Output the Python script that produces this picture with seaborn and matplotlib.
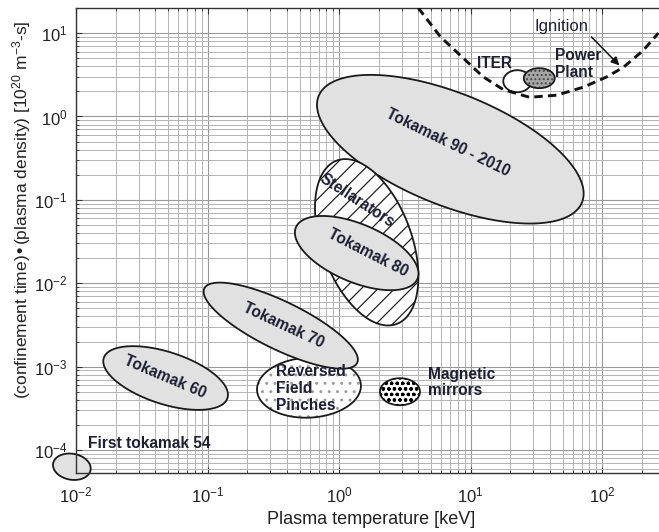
import numpy as np
import matplotlib
matplotlib.use("Agg")
import matplotlib.pyplot as plt
import seaborn as sns

# ---------------- data ----------------
regions = ["First tokamak 54", "Tokamak 60", "Reversed Field Pinches", "Tokamak 70",
           "Magnetic mirrors", "Tokamak 90 - 2010", "Stellarators", "Tokamak 80",
           "ITER", "Power Plant"]
center_T = [0.0093, 0.048, 0.59, 0.36, 2.9, 7.0, 1.62, 1.36, 22.6, 33.2]          # keV
center_ntau = [6.3e-5, 7.3e-4, 5.6e-4, 3.1e-3, 5.0e-4, 0.405, 3.1e-2, 2.3e-2, 2.65, 2.88]

ignition_T = [4.0, 5.9, 8.8, 12.4, 17.7, 28.0, 45.0, 72.0, 109.0, 145.0, 205.0, 267.0]
ignition_ntau = [20.0, 9.0, 5.0, 3.0, 2.1, 1.7, 1.8, 2.25, 3.0, 3.9, 6.2, 10.0]

x_ticks = [1e-2, 1e-1, 1e0, 1e1, 1e2]
y_ticks = [1e-4, 1e-3, 1e-2, 1e-1, 1e0, 1e1]

# ---------------- styling / geometry ----------------
sns.set_theme(style="white")
plt.rcParams['font.family'] = ['Liberation Sans', 'DejaVu Sans']
plt.rcParams['axes.unicode_minus'] = False
plt.rcParams['hatch.linewidth'] = 0.9
plt.rcParams['mathtext.default'] = 'regular'

TXT = "#1e1e34"
GRAY = "#e1e1e1"
# semi-axes (px) and tilt (deg, clockwise on screen), fill, hatch, hatch colour
shape = {
    "First tokamak 54": (19, 13, 10, GRAY, None, None),
    "Tokamak 60": (65, 26, 18, GRAY, None, None),
    "Reversed Field Pinches": (52, 30, -3, "white", "..", "#9a9a9a"),
    "Tokamak 70": (85, 24, 26, GRAY, None, None),
    "Magnetic mirrors": (20, 13.5, 0, "white", "ooo", "#000000"),
    "Tokamak 90 - 2010": (142, 56, 22, GRAY, None, None),
    "Stellarators": (87, 45, 70, "white", "//", "#222222"),
    "Tokamak 80": (66, 29, 23, GRAY, None, None),
    "ITER": (14, 11, 0, "white", None, None),
    "Power Plant": (15.5, 10, 0, "#a5a5a5", "....", "#444444"),
}

fig = plt.figure(figsize=(6.59, 5.32), dpi=100)
ax = fig.add_axes([76/659, 1-473/532, (659-76)/659, (473-8)/532])
ax.set_xscale('log')
ax.set_yscale('log')
ax.set_xlim(1e-2, 270)
ax.set_ylim(5.3e-5, 20)

ax.grid(which='major', color='#999999', lw=0.8, zorder=0)
ax.grid(which='minor', color='#b4b4b4', lw=0.7, zorder=0)
ax.set_axisbelow(True)
ax.set_xticks(x_ticks)
ax.set_yticks(y_ticks)
ax.tick_params(which='both', direction='in', top=True, right=False,
               bottom=True, left=True, colors='#333333', labelcolor='#222222')
ax.tick_params(which='major', length=4, width=0.8, labelsize=12)
ax.tick_params(which='minor', length=2, width=0.6)
ax.tick_params(axis='x', pad=9)
ax.tick_params(axis='y', pad=6)
for s in ['top', 'left', 'bottom']:
    ax.spines[s].set_color('#333333')
    ax.spines[s].set_linewidth(1.0)
ax.spines['right'].set_visible(False)


def ellipse_xy(T, n, a, b, ang, npts=240):
    cx, cy = ax.transData.transform((T, n))
    t = np.linspace(0, 2*np.pi, npts)
    th = np.deg2rad(-ang)
    ex, ey = a*np.cos(t), b*np.sin(t)
    px = cx + ex*np.cos(th) - ey*np.sin(th)
    py = cy + ex*np.sin(th) + ey*np.cos(th)
    d = ax.transData.inverted().transform(np.column_stack([px, py]))
    return d[:, 0], d[:, 1]


z = 2
for name, T, n in zip(regions, center_T, center_ntau):
    a, b, ang, fc, hatch, hc = shape[name]
    xs, ys = ellipse_xy(T, n, a, b, ang)
    ax.fill(xs, ys, facecolor=fc, edgecolor='none', lw=0, zorder=z, clip_on=False)
    if hatch:
        ax.fill(xs, ys, facecolor='none', edgecolor=hc, hatch=hatch, lw=0,
                zorder=z+0.1, clip_on=False)
    ax.fill(xs, ys, facecolor='none', edgecolor='#1a1a1a', lw=1.3,
            zorder=z+0.2, clip_on=False)
    z += 1

# ignition curve
sns.lineplot(x=ignition_T, y=ignition_ntau, ax=ax, color='#111111', lw=2.1,
             linestyle=(0, (2.9, 1.8)), zorder=30, sort=False)

# labels inside the plot
bold = dict(fontsize=11.2, fontweight='bold', color=TXT, zorder=40)
ax.text(0.01233, 1.2e-4, "First tokamak 54", ha='left', va='center', **bold)
ax.text(0.0475, 7.62e-4, "Tokamak 60", ha='center', va='center', rotation=-23,
        rotation_mode='anchor', **bold)
ax.text(0.375, 3.13e-3, "Tokamak 70", ha='center', va='center', rotation=-25,
        rotation_mode='anchor', **bold)
ax.text(1.66, 0.0229, "Tokamak 80", ha='center', va='center', rotation=-27,
        rotation_mode='anchor', **bold)
ax.text(1.37, 0.0989, "Stellarators", ha='center', va='center', rotation=-33,
        rotation_mode='anchor', **bold)
ax.text(6.75, 0.491, "Tokamak 90 - 2010", ha='center', va='center', rotation=-26,
        rotation_mode='anchor', **bold)
ax.text(0.332, 5.47e-4, "Reversed\nField\nPinches", ha='left', va='center',
        multialignment='left', linespacing=1.15, **bold)
ax.text(4.75, 6.45e-4, "Magnetic\nmirrors", ha='left', va='center',
        multialignment='left', linespacing=1.1, **bold)
ax.text(15.3, 4.36, "ITER", ha='center', va='center', **bold)
ax.text(44.0, 4.25, "Power\nPlant", ha='left', va='center',
        multialignment='left', linespacing=1.1, **bold)
ax.annotate("Ignition", xy=(135, 4.1), xytext=(48.8, 12.1), ha='center', va='center',
            fontsize=12, color=TXT, zorder=40,
            arrowprops=dict(arrowstyle='-|>', color='#111111', lw=1.1,
                            shrinkA=0, shrinkB=0, relpos=(1.0, 0.0),
                            mutation_scale=12))

# axis titles
fig.text(371/659, 1-520/532, "Plasma temperature [keV]", ha='center', va='center',
         fontsize=13, color='#222222')
fig.text(22/659, 1-210/532,
         "(confinement time)\u2022(plasma density) [10$^{20}$ m$^{-3}$-s]",
         ha='center', va='center', rotation=90, fontsize=12.5, color='#222222')

fig.savefig("out.png", dpi=100)
